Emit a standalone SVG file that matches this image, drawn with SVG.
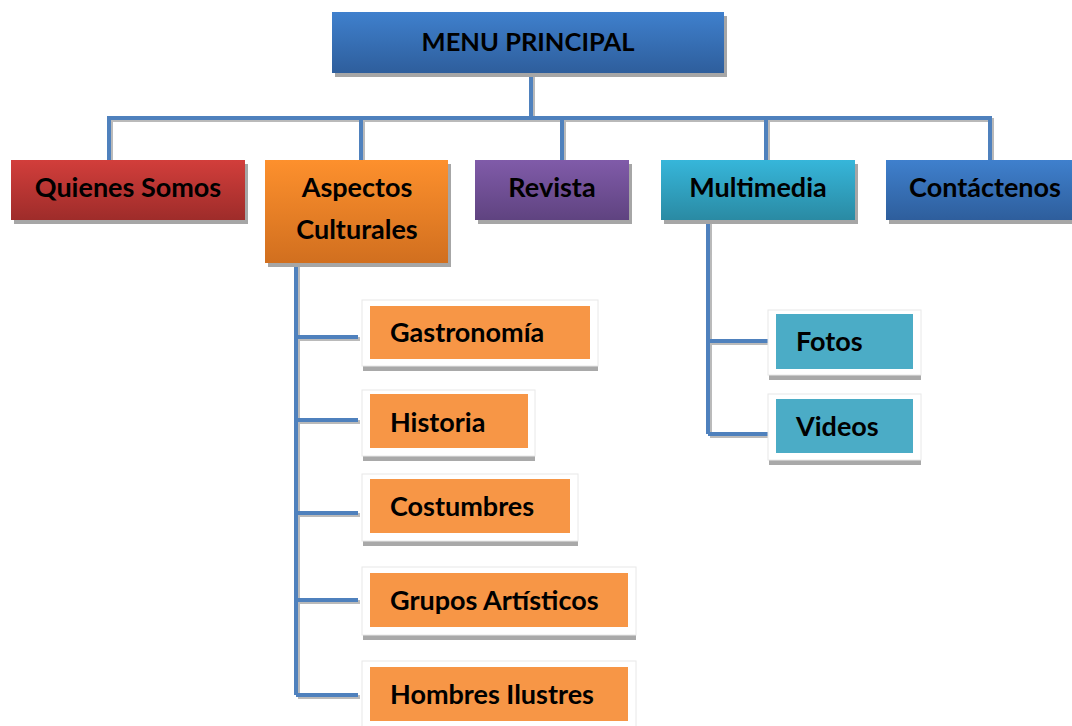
<svg xmlns="http://www.w3.org/2000/svg" width="1072" height="726" viewBox="0 0 1072 726">
<defs>
<linearGradient id="gBlue" x1="0" y1="0" x2="0" y2="1"><stop offset="0" stop-color="#3f80cd"/><stop offset="1" stop-color="#2e5e9c"/></linearGradient>
<linearGradient id="gRed" x1="0" y1="0" x2="0" y2="1"><stop offset="0" stop-color="#d23e3b"/><stop offset="1" stop-color="#9e2c2a"/></linearGradient>
<linearGradient id="gOrange" x1="0" y1="0" x2="0" y2="1"><stop offset="0" stop-color="#fd902d"/><stop offset="1" stop-color="#d16f1f"/></linearGradient>
<linearGradient id="gPurple" x1="0" y1="0" x2="0" y2="1"><stop offset="0" stop-color="#805ba9"/><stop offset="1" stop-color="#5f4380"/></linearGradient>
<linearGradient id="gTeal" x1="0" y1="0" x2="0" y2="1"><stop offset="0" stop-color="#36b6da"/><stop offset="1" stop-color="#2a8aa3"/></linearGradient>
</defs>
<style>
.t{font-family:Lato,"Liberation Sans",sans-serif;font-weight:bold;font-size:27px;fill:#000}
.m{font-size:25.5px}
.c{text-anchor:middle}
.sh{fill:#a6a6a6}
.ln{stroke:#4f81bd;stroke-width:4;fill:none}
.lsh{stroke:#8c8c8c;stroke-width:4;fill:none}
.card{fill:#fff}
.cardsh{fill:#a9a9a9}
.so{fill:#f79646}
.st{fill:#4bacc6}
</style>
<g id="connectors">
<g transform="translate(2,2)" class="lsh" opacity="0.6">
<path d="M531 74V118M109 160V118H990V160M361 118V160M562 118V160M766 118V160"/>
<path d="M296 264V695M296 337H358M296 420H358M296 513H358M296 600H358M296 695H358"/>
<path d="M708 221V434M708 341H768M708 434H768"/>
</g>
<g class="ln">
<path d="M531 74V118M109 160V118H990V160M361 118V160M562 118V160M766 118V160"/>
<path d="M296 264V695M296 337H358M296 420H358M296 513H358M296 600H358M296 695H358"/>
<path d="M708 221V434M708 341H768M708 434H768"/>
</g>
</g>
<g id="menu-principal">
<rect x="335" y="16" width="392" height="61" class="sh"/>
<rect x="332" y="12" width="392" height="61" fill="url(#gBlue)"/>
<text x="528" y="51" class="t m c">MENU PRINCIPAL</text>
</g>
<g id="quienes-somos">
<rect x="14" y="164" width="234" height="60" class="sh"/>
<rect x="11" y="160" width="234" height="60" fill="url(#gRed)"/>
<text x="128" y="197" class="t c">Quienes Somos</text>
</g>
<g id="aspectos-culturales">
<rect x="268" y="164" width="183" height="103" class="sh"/>
<rect x="265" y="160" width="183" height="103" fill="url(#gOrange)"/>
<text x="357" y="197" class="t c">Aspectos</text>
<text x="357" y="239" class="t c">Culturales</text>
</g>
<g id="revista">
<rect x="478" y="164" width="154" height="60" class="sh"/>
<rect x="475" y="160" width="154" height="60" fill="url(#gPurple)"/>
<text x="552" y="197" class="t c">Revista</text>
</g>
<g id="multimedia">
<rect x="664" y="164" width="194" height="60" class="sh"/>
<rect x="661" y="160" width="194" height="60" fill="url(#gTeal)"/>
<text x="758" y="197" class="t c">Multimedia</text>
</g>
<g id="contactenos">
<rect x="889" y="164" width="186" height="60" class="sh"/>
<rect x="886" y="160" width="186" height="60" fill="url(#gBlue)"/>
<text x="985" y="197" class="t c">Contáctenos</text>
</g>
<g id="gastronomia">
<rect x="363" y="366" width="235" height="5" class="cardsh"/>
<rect x="362" y="300" width="236" height="66" class="card" stroke="#e8e8e8" stroke-width="1"/>
<rect x="370" y="306" width="220" height="53" class="so"/>
<text x="390" y="342" class="t">Gastronomía</text>
</g>
<g id="historia">
<rect x="363" y="456" width="172" height="5" class="cardsh"/>
<rect x="362" y="390" width="173" height="66" class="card" stroke="#e8e8e8" stroke-width="1"/>
<rect x="370" y="394" width="158" height="54" class="so"/>
<text x="390" y="432" class="t">Historia</text>
</g>
<g id="costumbres">
<rect x="363" y="541" width="215" height="5" class="cardsh"/>
<rect x="362" y="474" width="216" height="67" class="card" stroke="#e8e8e8" stroke-width="1"/>
<rect x="370" y="479" width="200" height="54" class="so"/>
<text x="390" y="516" class="t">Costumbres</text>
</g>
<g id="grupos-artisticos">
<rect x="363" y="635" width="273" height="5" class="cardsh"/>
<rect x="362" y="567" width="274" height="68" class="card" stroke="#e8e8e8" stroke-width="1"/>
<rect x="370" y="573" width="258" height="54" class="so"/>
<text x="390" y="610" class="t">Grupos Artísticos</text>
</g>
<g id="hombres-ilustres">
<rect x="362" y="661" width="274" height="70" class="card" stroke="#e8e8e8" stroke-width="1"/>
<rect x="370" y="667" width="258" height="54" class="so"/>
<text x="390" y="704" class="t">Hombres Ilustres</text>
</g>
<g id="fotos">
<rect x="769" y="375" width="152" height="5" class="cardsh"/>
<rect x="768" y="310" width="153" height="65" class="card" stroke="#e8e8e8" stroke-width="1"/>
<rect x="776" y="314" width="137" height="55" class="st"/>
<text x="796" y="351" class="t">Fotos</text>
</g>
<g id="videos">
<rect x="769" y="460" width="152" height="5" class="cardsh"/>
<rect x="768" y="394" width="153" height="66" class="card" stroke="#e8e8e8" stroke-width="1"/>
<rect x="776" y="399" width="137" height="54" class="st"/>
<text x="796" y="436" class="t">Videos</text>
</g>
</svg>
